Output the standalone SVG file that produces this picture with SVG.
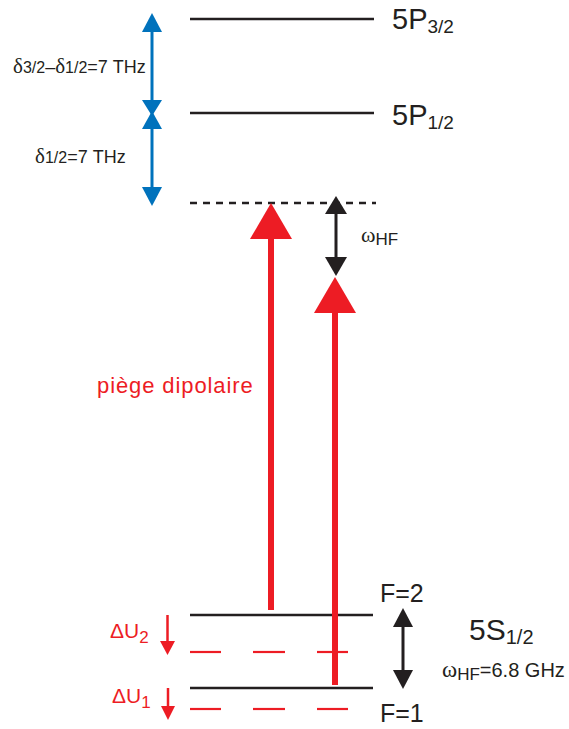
<svg xmlns="http://www.w3.org/2000/svg" width="569" height="729" viewBox="0 0 569 729">
<style>
.lvl{stroke:#231f20;stroke-width:2.5;fill:none}
.txt{font-family:"Liberation Sans",Arial,sans-serif;fill:#231f20}
.gr{font-family:"Liberation Serif","Times New Roman",serif}
.red{fill:#ed1c24}
.rdash{stroke:#ed1c24;stroke-width:2.2}
.blue{fill:#0072bc}
.blk{fill:#231f20}
</style>
<rect width="569" height="729" fill="#ffffff"/>

<g id="level-5P32">
<line class="lvl" x1="190" y1="19" x2="374" y2="19"/>
<text class="txt" x="392" y="29" font-size="29">5P<tspan font-size="19" dy="4">3/2</tspan></text>
</g>
<g id="level-5P12">
<line class="lvl" x1="190" y1="113" x2="374" y2="113"/>
<text class="txt" x="392" y="125" font-size="29">5P<tspan font-size="19" dy="4">1/2</tspan></text>
</g>
<g id="level-virtual">
<line class="lvl" x1="190" y1="203" x2="376" y2="203" stroke-dasharray="7 6"/>
</g>
<g id="level-F2">
<line class="lvl" x1="190" y1="615" x2="373" y2="615"/>
<text class="txt" x="380" y="602" font-size="25">F=2</text>
</g>
<g id="level-F1">
<line class="lvl" x1="190" y1="688" x2="373" y2="688"/>
<text class="txt" x="380" y="722" font-size="25">F=1</text>
</g>
<g id="level-F2-shifted">
<line class="rdash" x1="190" y1="652" x2="221" y2="652"/>
<line class="rdash" x1="253" y1="652" x2="285" y2="652"/>
<line class="rdash" x1="317" y1="652" x2="348" y2="652"/>
</g>
<g id="level-F1-shifted">
<line class="rdash" x1="190" y1="709" x2="221" y2="709"/>
<line class="rdash" x1="253" y1="709" x2="285" y2="709"/>
<line class="rdash" x1="317" y1="709" x2="348" y2="709"/>
</g>
<g id="label-5S">
<text class="txt" x="469" y="640" font-size="30">5S<tspan font-size="20" dy="4">1/2</tspan></text>
<text class="txt" x="442" y="677" font-size="20"><tspan class="gr" font-size="23">ω</tspan><tspan font-size="17" dy="3">HF</tspan><tspan dy="-3">=6.8 GHz</tspan></text>
</g>
<g id="label-dipole">
<text class="txt" x="97" y="393" font-size="22" letter-spacing="0.9" style="fill:#ed1c24">piège dipolaire</text>
</g>
<g id="label-dU2">
<text class="txt" x="110" y="638" font-size="21" style="fill:#ed1c24">ΔU<tspan font-size="17" dy="5">2</tspan></text>
</g>
<g id="label-dU1">
<text class="txt" x="112" y="703" font-size="21" style="fill:#ed1c24">ΔU<tspan font-size="17" dy="5">1</tspan></text>
</g>
<g id="label-deltas">
<text class="txt" x="13" y="73" font-size="18"><tspan class="gr" font-size="21">δ</tspan><tspan font-size="16">3/2</tspan>–<tspan class="gr" font-size="21">δ</tspan><tspan font-size="16">1/2</tspan>=7 THz</text>
<text class="txt" x="35" y="163" font-size="18"><tspan class="gr" font-size="21">δ</tspan><tspan font-size="16">1/2</tspan>=7 THz</text>
</g>
<g id="label-wHF">
<text class="txt" x="361" y="242" font-size="17"><tspan class="gr" font-size="22">ω</tspan><tspan dy="3">HF</tspan></text>
</g>

<g id="connectors">
<line x1="152" y1="30" x2="152" y2="102" stroke="#0072bc" stroke-width="3"/>
<line x1="152" y1="126" x2="152" y2="189" stroke="#0072bc" stroke-width="3"/>
<polygon class="blue" points="152,13 142,32 162,32"/>
<polygon class="blue" points="142,100 162,100 152,116"/>
<polygon class="blue" points="152,111 142,129 162,129"/>
<polygon class="blue" points="142,187 162,187 152,206"/>
<line x1="271" y1="610" x2="271" y2="236" stroke="#ed1c24" stroke-width="6"/>
<polygon class="red" points="271,203 250,239 292,239"/>
<line x1="335" y1="685" x2="335" y2="310" stroke="#ed1c24" stroke-width="6"/>
<polygon class="red" points="335,277 314,313 356,313"/>
<line x1="336" y1="212" x2="336" y2="259" stroke="#231f20" stroke-width="3"/>
<polygon class="blk" points="336,196 325,214 347,214"/>
<polygon class="blk" points="336,276 325,257 347,257"/>
<line x1="403" y1="625" x2="403" y2="672" stroke="#231f20" stroke-width="3"/>
<polygon class="blk" points="403,608 393,627 413,627"/>
<polygon class="blk" points="403,689 393,670 413,670"/>
<line x1="167.5" y1="615" x2="167.5" y2="643" stroke="#ed1c24" stroke-width="2.5"/>
<polygon class="red" points="160,641 175,641 167.5,655"/>
<line x1="168" y1="688" x2="168" y2="708" stroke="#ed1c24" stroke-width="2.5"/>
<polygon class="red" points="161,706 175,706 168,720"/>
</g>
</svg>
